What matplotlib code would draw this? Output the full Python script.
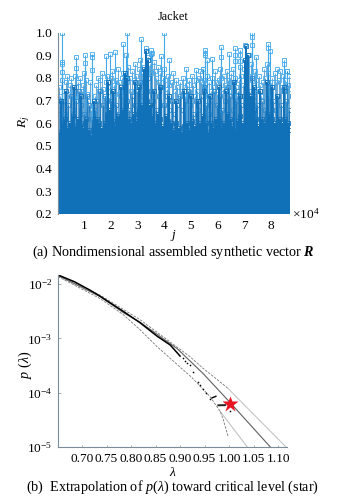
import numpy as np
import matplotlib
matplotlib.use('Agg')
import matplotlib.pyplot as plt
from matplotlib.ticker import FixedLocator, NullLocator

plt.rcParams['font.family'] = ['Liberation Serif', 'DejaVu Serif']
plt.rcParams['mathtext.fontset'] = 'custom'
plt.rcParams['mathtext.rm'] = 'Liberation Serif'
plt.rcParams['mathtext.it'] = 'Liberation Serif:italic'
plt.rcParams['mathtext.bf'] = 'Liberation Serif:bold:italic'

# painel (a): picos, j em unidades de 1e4
j_picos = [0.14, 0.14, 0.14, 0.14, 0.66, 0.66, 1.01, 1.01, 1.27, 1.27, 1.27, 1.79, 1.94, 2.16, 2.44,
           2.55, 2.60, 3.13, 3.31, 3.48, 3.48, 3.88, 4.00, 4.17, 4.82, 5.17, 5.44, 5.52, 5.52, 5.52,
           5.59, 5.80, 6.13, 6.13, 6.41, 6.66, 6.66, 6.66, 6.85, 6.85, 6.85, 7.02, 7.31, 7.29, 7.30,
           7.45, 7.91, 7.91, 7.95, 8.50, 8.50, 8.60]
R_picos = [1.00, 0.87, 0.86, 0.825, 0.89, 0.845, 0.90, 0.865, 0.905, 0.89, 0.835, 0.895, 0.905, 0.915, 0.95,
           0.90, 1.00, 0.97, 0.93, 0.925, 0.905, 0.895, 1.00, 0.88, 0.84, 0.835, 0.84, 0.925, 0.91, 0.90,
           0.88, 0.885, 0.935, 0.89, 0.905, 0.93, 0.90, 0.875, 0.925, 0.90, 0.875, 0.945, 1.00, 0.98, 0.945,
           0.89, 0.95, 0.93, 0.92, 0.88, 0.86, 0.83]

# base solida, 88 colunas
R_denso = [0.56, 0.60, 0.62, 0.58, 0.60, 0.63, 0.59, 0.62, 0.60, 0.58, 0.62, 0.57, 0.55, 0.58, 0.62, 0.60,
           0.58, 0.60, 0.64, 0.66, 0.61, 0.59, 0.63, 0.60, 0.66, 0.68, 0.62, 0.60, 0.64, 0.61, 0.66, 0.68,
           0.66, 0.70, 0.68, 0.63, 0.60, 0.64, 0.62, 0.59, 0.63, 0.61, 0.60, 0.57, 0.60, 0.58, 0.56, 0.59,
           0.60, 0.57, 0.61, 0.59, 0.58, 0.60, 0.63, 0.60, 0.56, 0.60, 0.58, 0.62, 0.61, 0.58, 0.60, 0.64,
           0.62, 0.59, 0.57, 0.61, 0.63, 0.60, 0.66, 0.70, 0.72, 0.66, 0.62, 0.59, 0.62, 0.60, 0.58, 0.64,
           0.62, 0.60, 0.58, 0.62, 0.60, 0.62, 0.60, 0.57]

# colunas escuras que sobem acima da base
j_colunas = [0.13, 0.30, 0.62, 0.85, 1.37, 1.87, 2.05, 2.35, 2.50, 2.58, 2.88, 3.05, 3.25, 3.32, 3.38, 3.60,
             3.85, 4.18, 4.45, 4.75, 5.00, 5.25, 5.50, 5.72, 6.05, 6.30, 6.60, 6.85, 7.02, 7.08, 7.14, 7.35,
             7.60, 7.85, 8.05, 8.25, 8.50]
R_colunas = [0.70, 0.74, 0.76, 0.72, 0.70, 0.78, 0.74, 0.76, 0.82, 0.80, 0.78, 0.76, 0.84, 0.92, 0.88, 0.74,
             0.76, 0.72, 0.70, 0.74, 0.72, 0.70, 0.74, 0.72, 0.76, 0.74, 0.78, 0.72, 0.88, 0.94, 0.90, 0.76,
             0.74, 0.78, 0.76, 0.72, 0.76]

# camada clara com marcadores, 175 colunas
R_alto = [0.76, 0.72, 0.79, 0.70, 0.74, 0.78, 0.81, 0.73, 0.77, 0.80, 0.75, 0.71, 0.81, 0.76, 0.78, 0.72,
          0.80, 0.74, 0.77, 0.82, 0.79, 0.73, 0.70, 0.78, 0.66, 0.62, 0.64, 0.72, 0.77, 0.80, 0.74, 0.79,
          0.82, 0.75, 0.71, 0.78, 0.81, 0.72, 0.76, 0.80, 0.83, 0.77, 0.73, 0.79, 0.84, 0.78, 0.74, 0.80,
          0.82, 0.76, 0.71, 0.78, 0.85, 0.80, 0.74, 0.83, 0.79, 0.86, 0.81, 0.76, 0.84, 0.88, 0.82, 0.78,
          0.85, 0.80, 0.84, 0.89, 0.86, 0.82, 0.91, 0.87, 0.83, 0.80, 0.85, 0.78, 0.82, 0.76, 0.80, 0.84,
          0.79, 0.75, 0.81, 0.77, 0.72, 0.78, 0.82, 0.74, 0.79, 0.76, 0.71, 0.78, 0.74, 0.80, 0.76, 0.72,
          0.77, 0.73, 0.79, 0.75, 0.81, 0.77, 0.72, 0.79, 0.74, 0.80, 0.83, 0.78, 0.84, 0.79, 0.75, 0.81,
          0.72, 0.78, 0.74, 0.80, 0.76, 0.83, 0.78, 0.73, 0.79, 0.84, 0.80, 0.75, 0.81, 0.77, 0.83, 0.79,
          0.74, 0.82, 0.78, 0.84, 0.80, 0.76, 0.72, 0.79, 0.85, 0.81, 0.77, 0.84, 0.88, 0.83, 0.79, 0.90,
          0.86, 0.81, 0.77, 0.83, 0.79, 0.75, 0.81, 0.77, 0.72, 0.78, 0.84, 0.80, 0.86, 0.82, 0.77, 0.73,
          0.80, 0.76, 0.82, 0.78, 0.84, 0.79, 0.83, 0.76, 0.81, 0.74, 0.79, 0.83, 0.77, 0.81, 0.75]

# faixa intermediaria, 88 valores
R_medio = [0.66, 0.70, 0.64, 0.68, 0.72, 0.66, 0.70, 0.74, 0.68, 0.64, 0.72, 0.68, 0.62, 0.66, 0.70, 0.74,
           0.68, 0.72, 0.66, 0.70, 0.74, 0.68, 0.64, 0.72, 0.76, 0.70, 0.66, 0.72, 0.68, 0.74, 0.78, 0.72,
           0.76, 0.80, 0.74, 0.70, 0.66, 0.72, 0.76, 0.68, 0.72, 0.66, 0.70, 0.64, 0.68, 0.72, 0.66, 0.70,
           0.74, 0.68, 0.64, 0.70, 0.66, 0.72, 0.76, 0.68, 0.64, 0.70, 0.74, 0.68, 0.72, 0.66, 0.70, 0.76,
           0.72, 0.66, 0.70, 0.74, 0.68, 0.72, 0.78, 0.74, 0.80, 0.72, 0.68, 0.74, 0.70, 0.66, 0.72, 0.76,
           0.70, 0.66, 0.72, 0.68, 0.74, 0.70, 0.66, 0.72]

j_denso = 0.05 + 0.1 * np.arange(len(R_denso))
j_medio = 0.08 + 0.1 * np.arange(len(R_medio))
j_alto = 0.04 + 0.05 * np.arange(len(R_alto))

ticks_a_x = [1, 2, 3, 4, 5, 6, 7, 8]
ticks_a_y = [0.2, 0.3, 0.4, 0.5, 0.6, 0.7, 0.8, 0.9, 1.0]

# painel (b): curva empirica
lam_curva = [0.651, 0.684, 0.716, 0.737, 0.784, 0.818, 0.853, 0.880, 0.900]
p_curva = [1.47e-2, 1.11e-2, 7.76e-3, 5.96e-3, 3.15e-3, 1.95e-3, 1.10e-3, 7.53e-4, 4.72e-4]
lam_pontos = [0.905, 0.910, 0.915, 0.920, 0.927, 0.937, 0.941, 0.947, 0.953, 0.961, 1.002]
p_pontos = [4.4e-4, 3.9e-4, 3.5e-4, 3.22e-4, 2.45e-4, 1.6e-4, 1.41e-4, 1.19e-4, 1.0e-4, 7.76e-5, 4.68e-5]
lam_traco1 = [0.965, 0.973]
p_traco1 = [8.0e-5, 8.6e-5]
lam_traco2 = [0.978, 0.992]
p_traco2 = [5.86e-5, 5.9e-5]

# ajuste e limites
lam_ajuste = [0.651, 0.737, 0.784, 0.818, 0.894, 0.947, 1.002, 1.084]
p_ajuste = [1.44e-2, 5.89e-3, 2.99e-3, 2.0e-3, 6.48e-4, 2.25e-4, 6.58e-5, 1.0e-5]
lam_sup = [0.651, 0.737, 0.818, 0.920, 0.945, 0.996]
p_sup = [1.5e-2, 6.26e-3, 2.22e-3, 4.62e-4, 2.9e-4, 1.24e-4]
lam_sup2 = [0.996, 1.116]
p_sup2 = [1.24e-4, 1.0e-5]
lam_inf = [0.651, 0.737, 0.784, 0.818, 0.853, 0.894, 0.924, 0.961, 0.982, 0.988, 0.998]
p_inf = [1.37e-2, 5.41e-3, 2.74e-3, 1.45e-3, 7.06e-4, 3.3e-4, 1.9e-4, 8.47e-5, 4.49e-5, 3.2e-5, 1.56e-5]
lam_inf2 = [0.982, 1.037]
p_inf2 = [4.49e-5, 1.0e-5]
lam_estrela = 1.002
p_estrela = 6.2e-5

ticks_b_x = [0.70, 0.75, 0.80, 0.85, 0.90, 0.95, 1.00, 1.05, 1.10]
ticks_b_y = [1e-5, 1e-4, 1e-3, 1e-2]
labels_b_y = [r'$\mathregular{10^{-5}}$', r'$\mathregular{10^{-4}}$', r'$\mathregular{10^{-3}}$', r'$\mathregular{10^{-2}}$']

W, H = 354, 499
cinza = '#7d8b99'
azul = '#1070b8'
azul_claro = '#45aaec'
fs = 9.6


def eixo_px(esq, topo, dir, base):
    return plt.axes([esq / W, 1 - base / H, (dir - esq) / W, (base - topo) / H])


def texto_px(x, y, s, **kw):
    plt.figtext(x / W, 1 - y / H, s, ha=kw.pop('ha', 'center'), va='center', **kw)


plt.figure(figsize=(W / 100, H / 100), dpi=100)

# painel (a)
ax1 = eixo_px(58, 32.5, 290, 214)
ax1.vlines(j_picos, 0.2, R_picos, color=azul_claro, lw=0.8)
ax1.plot(j_picos, R_picos, 's', mfc='none', mec=azul_claro, ms=2.9, mew=0.6)
ax1.vlines(j_alto, 0.2, R_alto, color=azul, lw=0.8, alpha=0.6)
ax1.plot(j_alto, R_alto, 's', mfc='none', mec=azul_claro, ms=2.9, mew=0.6)
ax1.vlines(j_medio, 0.2, R_medio, color=azul, lw=1.0, alpha=0.8)
ax1.plot(j_medio, R_medio, 's', mfc='none', mec='#2c8ad0', ms=2.9, mew=0.6)
ax1.vlines(j_colunas, 0.2, R_colunas, color=azul, lw=1.4)
ax1.plot(j_colunas, R_colunas, 's', mfc='none', mec=azul, ms=2.9, mew=0.6)
ax1.vlines(j_denso, 0.2, R_denso, color=azul, lw=2.6)
ax1.plot(j_denso, R_denso, 's', mfc='none', mec=azul, ms=2.9, mew=0.6)
ax1.set_xlim(0, 8.72)
ax1.set_ylim(0.2, 1.0)
ax1.set_xticks(ticks_a_x)
ax1.set_yticks(ticks_a_y)
ax1.set_yticklabels(['%.1f' % v for v in ticks_a_y])
ax1.tick_params(length=0, labelsize=fs, pad=4)
for lado in ['top', 'right', 'bottom']:
    ax1.spines[lado].set_visible(False)
ax1.spines['left'].set_color(cinza)
ax1.spines['left'].set_linewidth(0.8)

# painel (b)
ax2 = eixo_px(58, 275, 287, 447)
ax2.set_yscale('log')
ax2.plot(lam_sup2, p_sup2, color='#c4c4c4', lw=0.8)
ax2.plot(lam_inf2, p_inf2, color='#c4c4c4', lw=0.8)
ax2.plot(lam_ajuste, p_ajuste, color='#606060', lw=0.8)
ax2.plot(lam_sup, p_sup, color='#777777', lw=0.6, ls=(0, (3, 1.5)))
ax2.plot(lam_inf, p_inf, color='#777777', lw=0.6, ls=(0, (3, 1.5)))
ax2.plot(lam_curva, p_curva, color='black', lw=1.1)
ax2.plot(lam_traco1, p_traco1, color='black', lw=1.0)
ax2.plot(lam_traco2, p_traco2, color='#222222', lw=1.4)
ax2.plot(lam_pontos, p_pontos, 'o', color='black', ms=1.2, mew=0)
ax2.plot([lam_estrela], [p_estrela], '*', color='#e8141f', ms=12, mec='none', zorder=5)
ax2.set_xlim(0.651, 1.118)
ax2.set_ylim(1e-5, 1.47e-2)
ax2.xaxis.set_major_locator(FixedLocator(ticks_b_x))
ax2.set_xticklabels(['%.2f' % v for v in ticks_b_x])
ax2.yaxis.set_major_locator(FixedLocator(ticks_b_y))
ax2.yaxis.set_minor_locator(NullLocator())
ax2.set_yticklabels(labels_b_y)
ax2.tick_params(direction='in', length=1.8, width=0.5, color=cinza, labelsize=fs, pad=4)
for lado in ['top', 'right']:
    ax2.spines[lado].set_visible(False)
for lado in ['left', 'bottom']:
    ax2.spines[lado].set_color(cinza)
    ax2.spines[lado].set_linewidth(0.8)

# textos
texto_px(173, 17.5, 'Jacket', fontsize=8.8)
texto_px(24, 122, r'$\mathit{R}_{\mathit{j}}$', fontsize=fs, rotation=90)
texto_px(173, 235, 'j', fontsize=fs, style='italic')
texto_px(292, 214, r'$\mathregular{\times10^{4}}$', fontsize=fs, ha='left')
texto_px(173, 252, r'(a) Nondimensional assembled synthetic vector $\mathbf{R}$', fontsize=10.2)
texto_px(25, 365, r'$\mathit{p}$ ($\mathit{\lambda}$)', fontsize=fs + 0.6, rotation=90)
texto_px(173, 473, r'$\mathit{\lambda}$', fontsize=fs)
texto_px(173, 487, r'(b)  Extrapolation of $\mathit{p}$($\mathit{\lambda}$) toward critical level (star)', fontsize=10.2)

plt.savefig('out.png', dpi=100)
